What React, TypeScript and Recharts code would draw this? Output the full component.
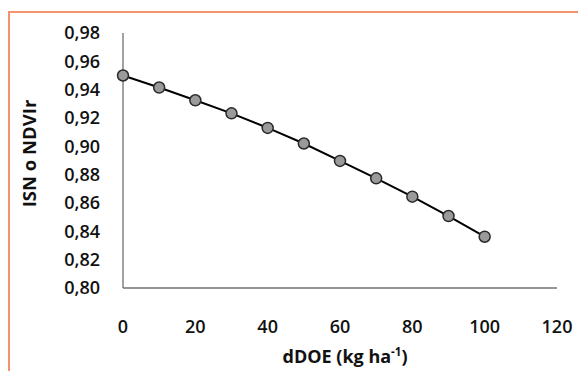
import React from "react";
import { LineChart, Line, XAxis, YAxis, Label } from "recharts";

const doses = [0, 10, 20, 30, 40, 50, 60, 70, 80, 90, 100];
const isnValues = [0.95, 0.9415, 0.9325, 0.9233, 0.913, 0.902, 0.8897, 0.8774, 0.8645, 0.8508, 0.8362];
const xTicks = [0, 20, 40, 60, 80, 100, 120];
const yTicks = [0.8, 0.82, 0.84, 0.86, 0.88, 0.9, 0.92, 0.94, 0.96, 0.98];

const data = doses.map((d, i) => ({ dose: d, isn: isnValues[i] }));

const FONT = "'Open Sans', sans-serif";
const AXIS_COLOR = "#707070";

const fmt = (v: number) => v.toFixed(2).replace(".", ",");

export default function App() {
  return (
    <div
      style={{
        position: "fixed",
        left: 8,
        top: 11,
        width: 570,
        height: 360,
        boxSizing: "border-box",
        borderTop: "2px solid #F4946F",
        borderLeft: "2px solid #F4946F",
        background: "#fff",
      }}
    >
      <LineChart
        width={568}
        height={358}
        data={data}
        margin={{ top: 20, right: 21, left: 0, bottom: 0 }}
        style={{ overflow: "visible" }}
      >
        <XAxis
          dataKey="dose"
          type="number"
          domain={[0, 120]}
          ticks={xTicks}
          height={83}
          tickSize={0}
          tickMargin={32}
          tickLine={false}
          axisLine={{ stroke: AXIS_COLOR, strokeWidth: 1.3 }}
          tick={{ fill: "#111", fontSize: 18, fontWeight: 600, fontFamily: FONT }}
        >
          <Label
            content={(props: any) => {
              const vb = props.viewBox || {};
              const cx = vb.x + vb.width / 2 + 5;
              const cy = vb.y + 75;
              return (
                <text
                  x={cx}
                  y={cy}
                  textAnchor="middle"
                  fontFamily={FONT}
                  fontSize={18}
                  fontWeight={700}
                  fill="#111"
                >
                  <tspan>dDOE (kg ha</tspan>
                  <tspan fontSize={11.5} dy={-7}>-1</tspan>
                  <tspan dy={7}>)</tspan>
                </text>
              );
            }}
          />
        </XAxis>
        <YAxis
          type="number"
          domain={[0.8, 0.98]}
          ticks={yTicks}
          width={113}
          tickSize={0}
          tickMargin={23}
          tickLine={false}
          tickFormatter={fmt}
          axisLine={{ stroke: AXIS_COLOR, strokeWidth: 1.3 }}
          tick={{ fill: "#111", fontSize: 18, fontWeight: 600, fontFamily: FONT }}
        >
          <Label
            content={(props: any) => {
              const vb = props.viewBox || {};
              const cx = 18;
              const cy = vb.y + vb.height / 2 - 7;
              return (
                <text
                  x={cx}
                  y={cy}
                  transform={`rotate(-90, ${cx}, ${cy})`}
                  textAnchor="middle"
                  dominantBaseline="central"
                  fontFamily={FONT}
                  fontSize={18.5}
                  fontWeight={700}
                  fill="#111"
                >
                  ISN o NDVIr
                </text>
              );
            }}
          />
        </YAxis>
        <Line
          dataKey="isn"
          stroke="#000"
          strokeWidth={2}
          isAnimationActive={false}
          dot={{ r: 5.5, fill: "#9a9a9a", stroke: "#2a2a2a", strokeWidth: 1.5 }}
          activeDot={false}
        />
      </LineChart>
    </div>
  );
}
